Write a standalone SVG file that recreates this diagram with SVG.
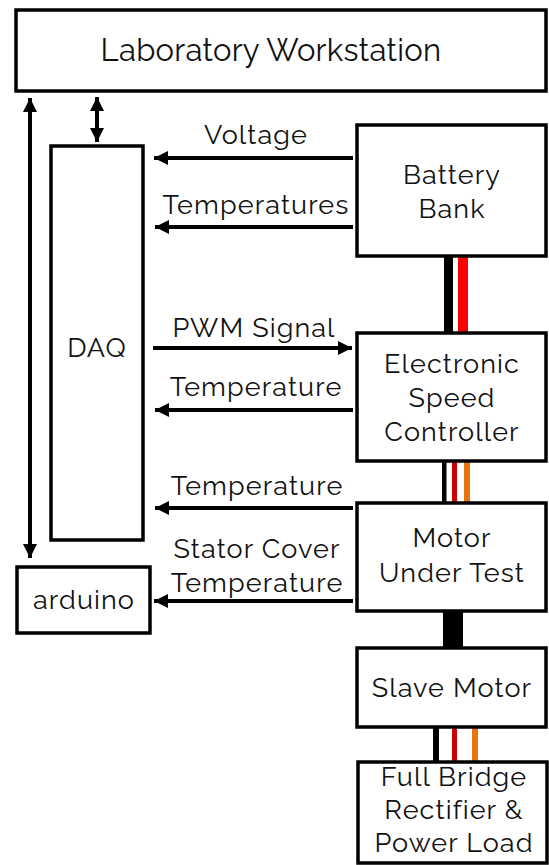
<svg xmlns="http://www.w3.org/2000/svg" width="549" height="865" viewBox="0 0 549 865">
<style>
.box{fill:#fff;stroke:#000;stroke-width:3.5}
.t{font-family:"Raleway","Lato","Open Sans",sans-serif;font-size:27px;letter-spacing:1.1px;fill:#111;text-anchor:middle}
.big{font-size:31px;letter-spacing:0.3px}
.ln{stroke:#000;stroke-width:4;fill:none}
</style>
<defs>
<marker id="ah" viewBox="0 0 10 10" refX="10" refY="5" markerWidth="3.6" markerHeight="4" orient="auto-start-reverse" markerUnits="strokeWidth">
<path d="M0,0 L10,5 L0,10 Z" fill="#000"/>
</marker>
</defs>
<g id="wires">
<rect x="444" y="256" width="9" height="78" fill="#000"/>
<rect x="458" y="256" width="10" height="78" fill="#ff0000"/>
<rect x="442" y="461" width="4.5" height="43" fill="#000"/>
<rect x="452" y="461" width="5" height="43" fill="#cc0000"/>
<rect x="464" y="461" width="6" height="43" fill="#e8750f"/>
<rect x="443" y="611" width="20" height="38" fill="#000"/>
<rect x="433" y="727" width="6" height="36" fill="#000"/>
<rect x="452" y="727" width="5" height="36" fill="#cc0000"/>
<rect x="472" y="727" width="6" height="36" fill="#e8750f"/>
</g>
<g id="workstation"><rect class="box" x="16" y="10" width="530" height="81"/><text class="t big" x="271" y="61">Laboratory Workstation</text></g>
<g id="daq"><rect class="box" x="51" y="146" width="92" height="394"/><text class="t" x="97" y="357">DAQ</text></g>
<g id="arduino"><rect class="box" x="17" y="567" width="133" height="66"/><text class="t" x="84" y="609">arduino</text></g>
<g id="battery"><rect class="box" x="357" y="125" width="189" height="131"/><text class="t" x="452" y="184">Battery</text><text class="t" x="452" y="218">Bank</text></g>
<g id="esc"><rect class="box" x="357" y="333" width="189" height="128"/><text class="t" x="452" y="373">Electronic</text><text class="t" x="452" y="407">Speed</text><text class="t" x="452" y="441">Controller</text></g>
<g id="motor"><rect class="box" x="357" y="503" width="189" height="108"/><text class="t" x="452" y="547">Motor</text><text class="t" x="452" y="582">Under Test</text></g>
<g id="slave"><rect class="box" x="357" y="648" width="189" height="79"/><text class="t" x="452" y="697">Slave Motor</text></g>
<g id="rectifier"><rect class="box" x="358" y="762" width="189" height="101"/><text class="t" x="454" y="786">Full Bridge</text><text class="t" x="454" y="819">Rectifier &amp;</text><text class="t" x="454" y="852">Power Load</text></g>
<g id="connectors">
<line class="ln" x1="30" y1="98" x2="30" y2="558" stroke-width="3.5" marker-start="url(#ah)" marker-end="url(#ah)"/>
<line class="ln" x1="97" y1="97" x2="97" y2="142" stroke-width="3.5" marker-start="url(#ah)" marker-end="url(#ah)"/>
<line class="ln" x1="353" y1="158" x2="154" y2="158" marker-end="url(#ah)"/>
<line class="ln" x1="353" y1="227" x2="155" y2="227" marker-end="url(#ah)"/>
<line class="ln" x1="153" y1="348" x2="352" y2="348" marker-end="url(#ah)"/>
<line class="ln" x1="353" y1="410" x2="155" y2="410" marker-end="url(#ah)"/>
<line class="ln" x1="353" y1="508" x2="155" y2="508" marker-end="url(#ah)"/>
<line class="ln" x1="353" y1="601" x2="154" y2="601" marker-end="url(#ah)"/>
</g>
<g id="labels">
<text class="t" x="256" y="144">Voltage</text>
<text class="t" x="256" y="214">Temperatures</text>
<text class="t" x="254" y="337">PWM Signal</text>
<text class="t" x="256" y="396">Temperature</text>
<text class="t" x="257" y="495">Temperature</text>
<text class="t" x="257" y="558">Stator Cover</text>
<text class="t" x="257" y="592">Temperature</text>
</g>
</svg>
